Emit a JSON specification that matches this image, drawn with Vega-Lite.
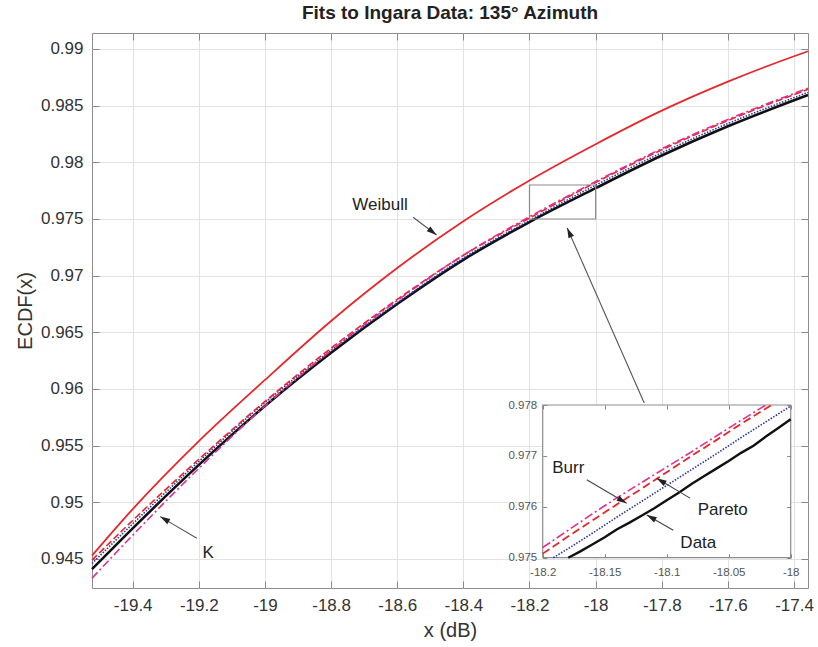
{
  "$schema": "https://vega.github.io/schema/vega-lite/v6.json",
  "width": 716,
  "height": 555,
  "autosize": {"type": "none"},
  "padding": {"left": 92, "top": 33, "right": 10, "bottom": 59},
  "background": "white",
  "title": {"text": "Fits to Ingara Data: 135° Azimuth", "fontSize": 19, "font": "Liberation Sans", "fontWeight": "bold", "color": "#222", "offset": 11, "baseline": "alphabetic", "dy": 16},
  "config": {
    "view": {"stroke": "#8c8c8c", "strokeWidth": 1},
    "font": "Liberation Sans",
    "text": {"font": "Liberation Sans"}
  },
  "datasets": {
    "main": [
      {"series": "Weibull", "x": -19.5231, "y": 0.9453},
      {"series": "Weibull", "x": -19.4, "y": 0.9494},
      {"series": "Weibull", "x": -19.2, "y": 0.9554},
      {"series": "Weibull", "x": -19.0, "y": 0.9608},
      {"series": "Weibull", "x": -18.8, "y": 0.966},
      {"series": "Weibull", "x": -18.6, "y": 0.97067},
      {"series": "Weibull", "x": -18.4, "y": 0.9748},
      {"series": "Weibull", "x": -18.2, "y": 0.9784},
      {"series": "Weibull", "x": -18.0, "y": 0.9816},
      {"series": "Weibull", "x": -17.8, "y": 0.98456},
      {"series": "Weibull", "x": -17.6, "y": 0.98712},
      {"series": "Weibull", "x": -17.4, "y": 0.98936},
      {"series": "Weibull", "x": -17.3577, "y": 0.9898},
      {"series": "Data", "x": -19.5231, "y": 0.9441},
      {"series": "Data", "x": -19.4, "y": 0.9477},
      {"series": "Data", "x": -19.2, "y": 0.9533},
      {"series": "Data", "x": -19.0, "y": 0.9585},
      {"series": "Data", "x": -18.8, "y": 0.9632},
      {"series": "Data", "x": -18.6, "y": 0.9675},
      {"series": "Data", "x": -18.4, "y": 0.9714},
      {"series": "Data", "x": -18.2, "y": 0.97473},
      {"series": "Data", "x": -18.0, "y": 0.97772},
      {"series": "Data", "x": -17.8, "y": 0.9806},
      {"series": "Data", "x": -17.6, "y": 0.98318},
      {"series": "Data", "x": -17.3577, "y": 0.98594},
      {"series": "Pareto", "x": -19.5231, "y": 0.9446},
      {"series": "Pareto", "x": -19.4, "y": 0.9481},
      {"series": "Pareto", "x": -19.2, "y": 0.9536},
      {"series": "Pareto", "x": -19.0, "y": 0.9588},
      {"series": "Pareto", "x": -18.8, "y": 0.9634},
      {"series": "Pareto", "x": -18.6, "y": 0.9676},
      {"series": "Pareto", "x": -18.4, "y": 0.97155},
      {"series": "Pareto", "x": -18.2, "y": 0.97487},
      {"series": "Pareto", "x": -18.0, "y": 0.97798},
      {"series": "Pareto", "x": -17.8, "y": 0.98084},
      {"series": "Pareto", "x": -17.6, "y": 0.98342},
      {"series": "Pareto", "x": -17.3577, "y": 0.98616},
      {"series": "Burr", "x": -19.5231, "y": 0.9449},
      {"series": "Burr", "x": -19.4, "y": 0.9484},
      {"series": "Burr", "x": -19.2, "y": 0.9538},
      {"series": "Burr", "x": -19.0, "y": 0.9589},
      {"series": "Burr", "x": -18.8, "y": 0.9636},
      {"series": "Burr", "x": -18.6, "y": 0.9679},
      {"series": "Burr", "x": -18.4, "y": 0.9718},
      {"series": "Burr", "x": -18.2, "y": 0.97508},
      {"series": "Burr", "x": -18.0, "y": 0.97822},
      {"series": "Burr", "x": -17.8, "y": 0.9811},
      {"series": "Burr", "x": -17.6, "y": 0.98368},
      {"series": "Burr", "x": -17.3577, "y": 0.98644},
      {"series": "K", "x": -19.5231, "y": 0.9433},
      {"series": "K", "x": -19.4, "y": 0.9471},
      {"series": "K", "x": -19.2, "y": 0.953},
      {"series": "K", "x": -19.0, "y": 0.9585},
      {"series": "K", "x": -18.8, "y": 0.9634},
      {"series": "K", "x": -18.6, "y": 0.9678},
      {"series": "K", "x": -18.4, "y": 0.9718},
      {"series": "K", "x": -18.2, "y": 0.9752},
      {"series": "K", "x": -18.0, "y": 0.9783},
      {"series": "K", "x": -17.8, "y": 0.9812},
      {"series": "K", "x": -17.6, "y": 0.98378},
      {"series": "K", "x": -17.3577, "y": 0.98654}
    ],
    "inset": [
      {"series": "Data", "x": -18.1794, "y": 0.975},
      {"series": "Data", "x": -18.17, "y": 0.97512},
      {"series": "Data", "x": -18.16, "y": 0.97526},
      {"series": "Data", "x": -18.15, "y": 0.9754},
      {"series": "Data", "x": -18.14, "y": 0.97556},
      {"series": "Data", "x": -18.13, "y": 0.97569},
      {"series": "Data", "x": -18.12, "y": 0.97583},
      {"series": "Data", "x": -18.11, "y": 0.97597},
      {"series": "Data", "x": -18.1, "y": 0.97613},
      {"series": "Data", "x": -18.09, "y": 0.97628},
      {"series": "Data", "x": -18.08, "y": 0.97645},
      {"series": "Data", "x": -18.07, "y": 0.9766},
      {"series": "Data", "x": -18.06, "y": 0.97675},
      {"series": "Data", "x": -18.05, "y": 0.9769},
      {"series": "Data", "x": -18.04, "y": 0.97706},
      {"series": "Data", "x": -18.03, "y": 0.9772},
      {"series": "Data", "x": -18.02, "y": 0.97738},
      {"series": "Data", "x": -18.01, "y": 0.97755},
      {"series": "Data", "x": -18.0, "y": 0.97772},
      {"series": "Pareto", "x": -18.1914, "y": 0.975},
      {"series": "Pareto", "x": -18.18, "y": 0.97517},
      {"series": "Pareto", "x": -18.16, "y": 0.97548},
      {"series": "Pareto", "x": -18.14, "y": 0.9758},
      {"series": "Pareto", "x": -18.12, "y": 0.97611},
      {"series": "Pareto", "x": -18.1, "y": 0.97642},
      {"series": "Pareto", "x": -18.08, "y": 0.97673},
      {"series": "Pareto", "x": -18.06, "y": 0.97704},
      {"series": "Pareto", "x": -18.04, "y": 0.97736},
      {"series": "Pareto", "x": -18.02, "y": 0.97767},
      {"series": "Pareto", "x": -18.0, "y": 0.97798},
      {"series": "Burr", "x": -18.2, "y": 0.97508},
      {"series": "Burr", "x": -18.18, "y": 0.97541},
      {"series": "Burr", "x": -18.16, "y": 0.97573},
      {"series": "Burr", "x": -18.14, "y": 0.97605},
      {"series": "Burr", "x": -18.12, "y": 0.97636},
      {"series": "Burr", "x": -18.1, "y": 0.97668},
      {"series": "Burr", "x": -18.08, "y": 0.977},
      {"series": "Burr", "x": -18.06, "y": 0.97731},
      {"series": "Burr", "x": -18.04, "y": 0.97763},
      {"series": "Burr", "x": -18.02, "y": 0.97793},
      {"series": "Burr", "x": -18.0155, "y": 0.978},
      {"series": "K", "x": -18.2, "y": 0.9752},
      {"series": "K", "x": -18.18, "y": 0.97553},
      {"series": "K", "x": -18.16, "y": 0.97586},
      {"series": "K", "x": -18.14, "y": 0.97618},
      {"series": "K", "x": -18.12, "y": 0.97648},
      {"series": "K", "x": -18.1, "y": 0.97678},
      {"series": "K", "x": -18.08, "y": 0.97708},
      {"series": "K", "x": -18.06, "y": 0.97739},
      {"series": "K", "x": -18.04, "y": 0.9777},
      {"series": "K", "x": -18.02, "y": 0.978}
    ],
    "mainNotes": [
      {"label": "Weibull", "x": -18.652, "y": 0.97624},
      {"label": "K", "x": -19.172, "y": 0.94553}
    ],
    "mainArrows": [
      {"name": "Weibull", "x": -18.552, "y": 0.97515, "x2": -18.481, "y2": 0.97359},
      {"name": "K", "x": -19.206, "y": 0.94683, "x2": -19.317, "y2": 0.94874},
      {"name": "zoom", "x": -17.853, "y": 0.95877, "x2": -18.086, "y2": 0.97421}
    ],
    "insetNotes": [
      {"label": "Burr", "x": -18.1794, "y": 0.97676},
      {"label": "Pareto", "x": -18.0548, "y": 0.97594},
      {"label": "Data", "x": -18.0745, "y": 0.97528}
    ],
    "insetArrows": [
      {"name": "Burr", "x": -18.1645, "y": 0.97653, "x2": -18.1323, "y2": 0.97607},
      {"name": "Pareto", "x": -18.0812, "y": 0.97617, "x2": -18.1081, "y2": 0.97656},
      {"name": "Data", "x": -18.0947, "y": 0.97554, "x2": -18.1161, "y2": 0.97584}
    ]
  },
  "resolve": {"scale": {"x": "independent", "y": "independent"}},
  "layer": [
    {
      "layer": [
        {
          "data": {"name": "main"},
          "transform": [{"filter": "datum.series === 'Data'"}],
          "mark": {"type": "line", "color": "#111", "strokeWidth": 2.6, "interpolate": "monotone"},
          "encoding": {
            "x": {"field": "x", "type": "quantitative", "scale": {"domain": [-19.5231, -17.3577], "nice": false, "zero": false},
              "axis": {"orient": "bottom", "values": [-19.4, -19.2, -19, -18.8, -18.6, -18.4, -18.2, -18, -17.8, -17.6, -17.4], "format": "~g", "labelExpr": "replace(datum.label, '\u2212', '-')", "grid": true, "gridColor": "#e2e2e2", "gridWidth": 1, "domain": false, "tickSize": -7, "tickColor": "#888", "labelFontSize": 17, "labelColor": "#333", "labelPadding": 16, "labelFlush": false, "title": "x (dB)", "titleFontSize": 20, "titleFontWeight": "normal", "titleColor": "#333", "titlePadding": 7}},
            "y": {"field": "y", "type": "quantitative", "scale": {"domain": [0.94244, 0.99141], "nice": false, "zero": false},
              "axis": {"orient": "left", "values": [0.945, 0.95, 0.955, 0.96, 0.965, 0.97, 0.975, 0.98, 0.985, 0.99], "format": "~g", "grid": true, "gridColor": "#e2e2e2", "gridWidth": 1, "domain": false, "tickSize": -7, "tickColor": "#888", "labelFontSize": 17, "labelColor": "#333", "labelPadding": 16, "labelFlush": false, "title": "ECDF(x)", "titleFontSize": 20, "titleFontWeight": "normal", "titleColor": "#333", "titlePadding": 5}}
          }
        },
        {
          "data": {"name": "main"},
          "transform": [{"filter": "datum.series === 'Pareto'"}],
          "mark": {"type": "line", "color": "#2b35a5", "strokeWidth": 1.6, "strokeDash": [1.5, 1.5], "interpolate": "monotone"},
          "encoding": {
            "x": {"field": "x", "type": "quantitative", "axis": {"orient": "top", "values": [-19.4, -19.2, -19, -18.8, -18.6, -18.4, -18.2, -18, -17.8, -17.6, -17.4], "labels": false, "grid": false, "domain": false, "tickSize": -7, "tickColor": "#888", "title": null}},
            "y": {"field": "y", "type": "quantitative", "axis": {"orient": "right", "values": [0.945, 0.95, 0.955, 0.96, 0.965, 0.97, 0.975, 0.98, 0.985, 0.99], "labels": false, "grid": false, "domain": false, "tickSize": -7, "tickColor": "#888", "title": null}}
          }
        },
        {
          "data": {"name": "main"},
          "transform": [{"filter": "datum.series === 'Burr'"}],
          "mark": {"type": "line", "color": "#e8262a", "strokeWidth": 1.6, "strokeDash": [7, 3], "interpolate": "monotone"},
          "encoding": {
            "x": {"field": "x", "type": "quantitative", "axis": null},
            "y": {"field": "y", "type": "quantitative", "axis": null}
          }
        },
        {
          "data": {"name": "main"},
          "transform": [{"filter": "datum.series === 'K'"}],
          "mark": {"type": "line", "color": "#dc2f94", "strokeWidth": 1.6, "strokeDash": [8, 3, 2, 3], "interpolate": "monotone"},
          "encoding": {
            "x": {"field": "x", "type": "quantitative", "axis": null},
            "y": {"field": "y", "type": "quantitative", "axis": null}
          }
        },
        {
          "data": {"name": "main"},
          "transform": [{"filter": "datum.series === 'Weibull'"}],
          "mark": {"type": "line", "color": "#e5282c", "strokeWidth": 1.8, "interpolate": "monotone"},
          "encoding": {
            "x": {"field": "x", "type": "quantitative", "axis": null},
            "y": {"field": "y", "type": "quantitative", "axis": null}
          }
        },
        {
          "data": {"values": [{}]},
          "mark": {"type": "rect", "fill": null, "fillOpacity": 0, "stroke": "#8c8c8c", "strokeWidth": 1.2},
          "encoding": {
            "x": {"datum": -18.2, "type": "quantitative", "axis": null},
            "x2": {"datum": -18.0},
            "y": {"datum": 0.975, "type": "quantitative", "axis": null},
            "y2": {"datum": 0.978}
          }
        },
        {
          "data": {"name": "mainArrows"},
          "mark": {"type": "rule", "color": "#555", "strokeWidth": 1.1},
          "encoding": {
            "x": {"field": "x", "type": "quantitative", "axis": null},
            "y": {"field": "y", "type": "quantitative", "axis": null},
            "x2": {"field": "x2"},
            "y2": {"field": "y2"}
          }
        },
        {
          "data": {"name": "mainArrows"},
          "transform": [{"filter": "datum.name === 'Weibull'"}],
          "mark": {"type": "point", "shape": "M0,0L-0.6,2L0.6,2Z", "filled": true, "color": "#222", "opacity": 1, "size": 100, "angle": 127},
          "encoding": {
            "x": {"field": "x2", "type": "quantitative", "axis": null},
            "y": {"field": "y2", "type": "quantitative", "axis": null}
          }
        },
        {
          "data": {"name": "mainArrows"},
          "transform": [{"filter": "datum.name === 'K'"}],
          "mark": {"type": "point", "shape": "M0,0L-0.6,2L0.6,2Z", "filled": true, "color": "#222", "opacity": 1, "size": 100, "angle": 300},
          "encoding": {
            "x": {"field": "x2", "type": "quantitative", "axis": null},
            "y": {"field": "y2", "type": "quantitative", "axis": null}
          }
        },
        {
          "data": {"name": "mainArrows"},
          "transform": [{"filter": "datum.name === 'zoom'"}],
          "mark": {"type": "point", "shape": "M0,0L-0.6,2L0.6,2Z", "filled": true, "color": "#222", "opacity": 1, "size": 100, "angle": 336},
          "encoding": {
            "x": {"field": "x2", "type": "quantitative", "axis": null},
            "y": {"field": "y2", "type": "quantitative", "axis": null}
          }
        },
        {
          "data": {"name": "mainNotes"},
          "mark": {"type": "text", "fontSize": 17, "color": "#222", "align": "center", "baseline": "middle"},
          "encoding": {
            "x": {"field": "x", "type": "quantitative", "axis": null},
            "y": {"field": "y", "type": "quantitative", "axis": null},
            "text": {"field": "label"}
          }
        }
      ]
    },
    {
      "layer": [
        {
          "data": {"values": [{}]},
          "mark": {"type": "rect", "fill": "white", "stroke": "#8c8c8c", "strokeWidth": 1.2},
          "encoding": {
            "x": {"datum": -18.2, "type": "quantitative", "scale": {"domain": [-18.2, -18.0], "range": [450.7, 698.7], "nice": false, "zero": false},
              "axis": {"orient": "bottom", "offset": -30.3, "values": [-18.2, -18.15, -18.1, -18.05, -18], "format": "~g", "labelExpr": "replace(datum.label, '\u2212', '-')", "grid": false, "domain": false, "tickSize": -4, "tickColor": "#888", "labelFontSize": 11.5, "labelColor": "#555", "labelPadding": 13, "labelFlush": false, "title": null, "zindex": 1}},
            "x2": {"datum": -18.0},
            "y": {"datum": 0.975, "type": "quantitative", "scale": {"domain": [0.975, 0.978], "range": [524.7, 372], "nice": false, "zero": false},
              "axis": {"orient": "left", "offset": -450.7, "values": [0.975, 0.976, 0.977, 0.978], "format": "~g", "grid": false, "domain": false, "tickSize": -4, "tickColor": "#888", "labelFontSize": 11.5, "labelColor": "#555", "labelPadding": 10, "labelFlush": false, "title": null, "zindex": 1}},
            "y2": {"datum": 0.978}
          }
        },
        {
          "data": {"name": "inset"},
          "transform": [{"filter": "datum.series === 'Data'"}],
          "mark": {"type": "line", "color": "#111", "strokeWidth": 2.4},
          "encoding": {
            "x": {"field": "x", "type": "quantitative", "axis": {"orient": "top", "offset": -372, "values": [-18.2, -18.15, -18.1, -18.05, -18], "labels": false, "grid": false, "domain": false, "tickSize": -4, "tickColor": "#888", "title": null, "zindex": 1}},
            "y": {"field": "y", "type": "quantitative", "axis": {"orient": "right", "offset": -17.3, "values": [0.975, 0.976, 0.977, 0.978], "labels": false, "grid": false, "domain": false, "tickSize": -4, "tickColor": "#888", "title": null, "zindex": 1}}
          }
        },
        {
          "data": {"name": "inset"},
          "transform": [{"filter": "datum.series === 'Pareto'"}],
          "mark": {"type": "line", "color": "#2b35a5", "strokeWidth": 1.6, "strokeDash": [1.5, 1.5]},
          "encoding": {
            "x": {"field": "x", "type": "quantitative", "axis": null},
            "y": {"field": "y", "type": "quantitative", "axis": null}
          }
        },
        {
          "data": {"name": "inset"},
          "transform": [{"filter": "datum.series === 'Burr'"}],
          "mark": {"type": "line", "color": "#e8262a", "strokeWidth": 1.8, "strokeDash": [8, 4]},
          "encoding": {
            "x": {"field": "x", "type": "quantitative", "axis": null},
            "y": {"field": "y", "type": "quantitative", "axis": null}
          }
        },
        {
          "data": {"name": "inset"},
          "transform": [{"filter": "datum.series === 'K'"}],
          "mark": {"type": "line", "color": "#e0308e", "strokeWidth": 1.6, "strokeDash": [9, 3, 2, 3]},
          "encoding": {
            "x": {"field": "x", "type": "quantitative", "axis": null},
            "y": {"field": "y", "type": "quantitative", "axis": null}
          }
        },
        {
          "data": {"name": "insetArrows"},
          "mark": {"type": "rule", "color": "#444", "strokeWidth": 1.1},
          "encoding": {
            "x": {"field": "x", "type": "quantitative", "axis": null},
            "y": {"field": "y", "type": "quantitative", "axis": null},
            "x2": {"field": "x2"},
            "y2": {"field": "y2"}
          }
        },
        {
          "data": {"name": "insetArrows"},
          "transform": [{"filter": "datum.name === 'Burr'"}],
          "mark": {"type": "point", "shape": "M0,0L-0.6,2L0.6,2Z", "filled": true, "color": "#222", "opacity": 1, "size": 100, "angle": 120},
          "encoding": {
            "x": {"field": "x2", "type": "quantitative", "axis": null},
            "y": {"field": "y2", "type": "quantitative", "axis": null}
          }
        },
        {
          "data": {"name": "insetArrows"},
          "transform": [{"filter": "datum.name === 'Pareto'"}],
          "mark": {"type": "point", "shape": "M0,0L-0.6,2L0.6,2Z", "filled": true, "color": "#222", "opacity": 1, "size": 100, "angle": 301},
          "encoding": {
            "x": {"field": "x2", "type": "quantitative", "axis": null},
            "y": {"field": "y2", "type": "quantitative", "axis": null}
          }
        },
        {
          "data": {"name": "insetArrows"},
          "transform": [{"filter": "datum.name === 'Data'"}],
          "mark": {"type": "point", "shape": "M0,0L-0.6,2L0.6,2Z", "filled": true, "color": "#222", "opacity": 1, "size": 100, "angle": 299},
          "encoding": {
            "x": {"field": "x2", "type": "quantitative", "axis": null},
            "y": {"field": "y2", "type": "quantitative", "axis": null}
          }
        },
        {
          "data": {"name": "insetNotes"},
          "mark": {"type": "text", "fontSize": 17, "color": "#222", "align": "center", "baseline": "middle"},
          "encoding": {
            "x": {"field": "x", "type": "quantitative", "axis": null},
            "y": {"field": "y", "type": "quantitative", "axis": null},
            "text": {"field": "label"}
          }
        }
      ]
    }
  ]
}
